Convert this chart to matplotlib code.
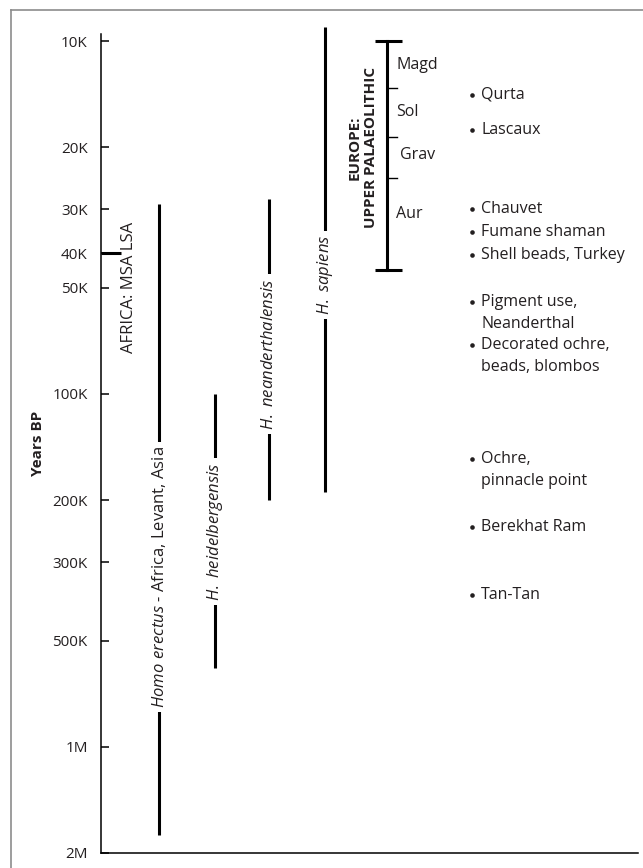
import numpy as np
import matplotlib
matplotlib.use('Agg')
import matplotlib.pyplot as plt
from matplotlib.lines import Line2D

plt.rcParams['font.family'] = ['Open Sans', 'DejaVu Sans']
plt.rcParams['mathtext.fontset'] = 'custom'
plt.rcParams['mathtext.it'] = 'Open Sans:italic'
plt.rcParams['mathtext.rm'] = 'Open Sans'

TXT = '#231f20'

# y axis (years BP, log scale, oldest at bottom)
tick_values = [1e4, 2e4, 3e4, 4e4, 5e4, 1e5, 2e5, 3e5, 5e5, 1e6, 2e6]
tick_labels = ['10K', '20K', '30K', '40K', '50K', '100K', '200K', '300K',
               '500K', '1M', '2M']

# hominin ranges: x column, start, end, label, label centre
species = ['$\\it{Homo\\ erectus}$ - Africa, Levant, Asia',
           '$\\it{H.\\ heidelbergensis}$',
           '$\\it{H.\\ neanderthalensis}$',
           '$\\it{H.\\ sapiens}$']
species_x = [10.8, 21.2, 31.3, 41.7]
species_start = [29000, 100000, 28000, 9100]
species_end = [1.78e6, 6.0e5, 2.0e5, 1.9e5]
species_label_y = [3.3e5, 2.45e5, 7.7e4, 4.6e4]

# Africa MSA / LSA boundary
msa_lsa = 40000

# Europe upper palaeolithic
europe_bounds = [10000, 13600, 18700, 24400, 44500]
europe_periods = ['Magd', 'Sol', 'Grav', 'Aur']
europe_period_y = [11700, 15900, 21000, 31000]
europe_period_x = [55.1, 55.0, 55.7, 55.0]

# finds
finds = ['Qurta', 'Lascaux', 'Chauvet', 'Fumane shaman', 'Shell beads, Turkey',
         'Pigment use,\nNeanderthal', 'Decorated ochre,\nbeads, blombos',
         'Ochre,\npinnacle point', 'Berekhat Ram', 'Tan-Tan']
finds_y = [14200, 17900, 30000, 34800, 40400, 55000, 72600, 153000, 239000, 371000]


fig = plt.figure(figsize=(6.43, 8.68), dpi=100)
ax = fig.add_axes([101 / 643, 15 / 868, 537 / 643, 819 / 868])

ax.set_yscale('log')
ax.set_ylim(2e6, 9550)
ax.set_xlim(0, 100)
ax.set_yticks(tick_values)
ax.set_yticklabels(tick_labels)
ax.yaxis.set_minor_locator(matplotlib.ticker.NullLocator())
ax.set_xticks([])
ax.tick_params(axis='y', direction='in', length=6, width=1.1, pad=9.5,
               labelsize=11, labelcolor=TXT)
for s in ['top', 'right']:
    ax.spines[s].set_visible(False)
for s in ['left', 'bottom']:
    ax.spines[s].set_linewidth(1.1)

ax.set_ylabel('Years BP', fontsize=11, fontweight='bold', color=TXT)
ax.yaxis.set_label_coords(-0.105, 0.5)

# species lines with labels sitting in a gap
for x, y0, y1, lab, ly in zip(species_x, species_start, species_end, species, species_label_y):
    ax.plot([x, x], [y0, y1], color='black', lw=2.2, solid_capstyle='butt', clip_on=False)
    ax.text(x, ly, lab, rotation=90, ha='center', va='center', fontsize=12, color=TXT,
            bbox=dict(fc='white', ec='none', pad=3))

# Africa
ax.plot([0, 3.7], [msa_lsa, msa_lsa], color='black', lw=2.2, solid_capstyle='butt', clip_on=False)
ax.text(5.2, 50000, 'AFRICA: MSA LSA', rotation=90, ha='center', va='center',
        fontsize=12, color=TXT)

# Europe bracket
ax.plot([53.3, 53.3], [europe_bounds[0], europe_bounds[-1]], color='black', lw=2.2)
for b in [europe_bounds[0], europe_bounds[-1]]:
    ax.plot([51.0, 56.1], [b, b], color='black', lw=2.2, solid_capstyle='butt')
for b in europe_bounds[1:-1]:
    ax.plot([53.3, 55.1], [b, b], color='black', lw=1.0)
for p, py, px in zip(europe_periods, europe_period_y, europe_period_x):
    ax.text(px, py, p, ha='left', va='center', fontsize=11.5, color=TXT)
ax.text(48.7, 20000, 'EUROPE:\nUPPER PALAEOLITHIC', rotation=90, ha='center', va='center',
        multialignment='center', fontsize=11, fontweight='bold', color=TXT,
        linespacing=1.25)

# finds
for f, fy in zip(finds, finds_y):
    ax.plot(69.1, fy, 'o', ms=3.3, color=TXT, mec='none')
    for i, line in enumerate(f.split('\n')):
        ax.annotate(line, (70.8, fy), xytext=(0, -15.8 * i), textcoords='offset points',
                    ha='left', va='center', fontsize=11.5, color=TXT)

# frame (cropped border)
fig.add_artist(Line2D([11 / 643, 11 / 643], [0, 858 / 868], color='#8c8c8c', lw=1.2))
fig.add_artist(Line2D([11 / 643, 1], [858 / 868, 858 / 868], color='#8c8c8c', lw=1.2))

fig.savefig('out.png', dpi=100)
